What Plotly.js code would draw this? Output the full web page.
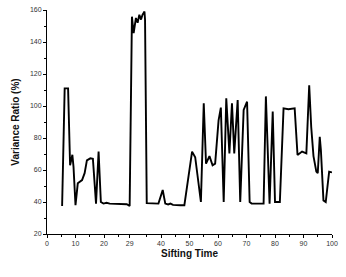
<!DOCTYPE html>
<html>
<head>
<meta charset="utf-8">
<script src="https://cdn.plot.ly/plotly-3.0.1.min.js"></script>
<style>html,body{margin:0;padding:0;background:#fff;}#chart{width:346px;height:277px;}</style>
</head>
<body>
<div id="chart"></div>
<script>
const siftingTime = [5.3, 6.2, 7.4, 8.1, 8.9, 9.3, 10.0, 10.8, 12.3, 13.2, 14.0, 15.2, 16.1, 17.2, 18.1, 18.9, 19.8, 20.9, 22, 24, 26, 28, 29.0,
  29.8, 30.4, 31.2, 31.8, 32.4, 33.0, 33.5, 34.2, 34.4, 35.0, 37, 39.1, 40.6, 41.5, 42.5, 43.3, 44.2, 45.3, 46.8, 48.2, 49.1, 50.9, 52.0, 53.2, 54.0,
  55.0, 55.8, 57.0, 58.1, 59.0, 60.2, 61.0, 62.0, 62.9, 64.0, 64.9, 65.7, 66.9, 67.8, 69.0, 70.2, 71.1, 71.8, 74, 76.0,
  76.8, 77.6, 78.1, 79.2, 80.0, 80.8, 81.7, 83.0, 84.7, 86.9, 87.9, 89.5, 91.0, 92.0, 92.7, 93.5, 94.5, 95.0, 95.7, 96.1, 97.0, 97.8, 99.0, 100.0];
const varianceRatio = [37.5, 111, 111, 63, 69.5, 62, 38, 51.7, 53.7, 58, 66, 67.3, 67, 39, 71.5, 40, 39, 39.5, 39, 39, 38.8, 38.6, 37.5,
  155.8, 145.6, 155, 152, 157, 154, 157, 159, 154, 39.3, 39, 39, 47.5, 39, 38.5, 39, 38.2, 38, 38, 38, 49.6, 71.5, 68, 49.6, 40,
  101.7, 64, 68.7, 63, 64, 91, 99, 40, 104.8, 70.4, 101.7, 70.4, 103.7, 40, 97.5, 102.7, 40, 39, 39, 39,
  106, 71, 39, 96.5, 40, 40, 40, 98.5, 98, 98.5, 69.4, 71.5, 70.4, 113, 87, 68.7, 59, 58, 80.8, 72.5, 41, 40, 59, 58.5];
const xTickVals = [0, 10, 20, 29, 40, 50, 60, 70, 80, 90, 100];
const xTickText = ['0', '10', '20', '29', '40', '50', '60', '70', '80', '90', '100'];
const xMinorVals = [5, 15, 25, 35, 45, 55, 65, 75, 85, 95];
const yTickVals = [20, 40, 60, 80, 100, 120, 140, 160];
const yMinorVals = [30, 50, 70, 90, 110, 130, 150];

const trace = {
  x: siftingTime, y: varianceRatio, type: 'scatter', mode: 'lines',
  line: {color: '#000', width: 1.9}, hoverinfo: 'none'
};
const axisCommon = {
  showgrid: false, zeroline: false, showline: true, linecolor: '#000', linewidth: 1,
  ticks: 'outside', ticklen: 3, tickwidth: 1, tickcolor: '#000',
  tickfont: {family: 'Liberation Sans, Arial, sans-serif', size: 7, color: '#333333'}
};
const layout = {
  width: 346, height: 277,
  margin: {l: 47, r: 14, t: 10, b: 43},
  paper_bgcolor: '#fff', plot_bgcolor: '#fff',
  showlegend: false,
  xaxis: Object.assign({}, axisCommon, {
    range: [0, 100], tickmode: 'array', tickvals: xTickVals, ticktext: xTickText,
    minor: {tickmode: 'array', tickvals: xMinorVals, ticks: 'outside', ticklen: 2, tickcolor: '#000'},
    title: {text: '<b>Sifting Time</b>', standoff: 3, font: {family: 'Liberation Sans, Arial, sans-serif', size: 10, color: '#111'}}
  }),
  yaxis: Object.assign({}, axisCommon, {
    range: [20, 160], tickmode: 'array', tickvals: yTickVals,
    minor: {tickmode: 'array', tickvals: yMinorVals, ticks: 'outside', ticklen: 2, tickcolor: '#000'},
    title: {text: '<b>Variance Ratio (%)</b>', standoff: 8, font: {family: 'Liberation Sans, Arial, sans-serif', size: 10, color: '#111'}}
  })
};
Plotly.newPlot('chart', [trace], layout, {displayModeBar: false, staticPlot: true});
</script>
</body>
</html>
